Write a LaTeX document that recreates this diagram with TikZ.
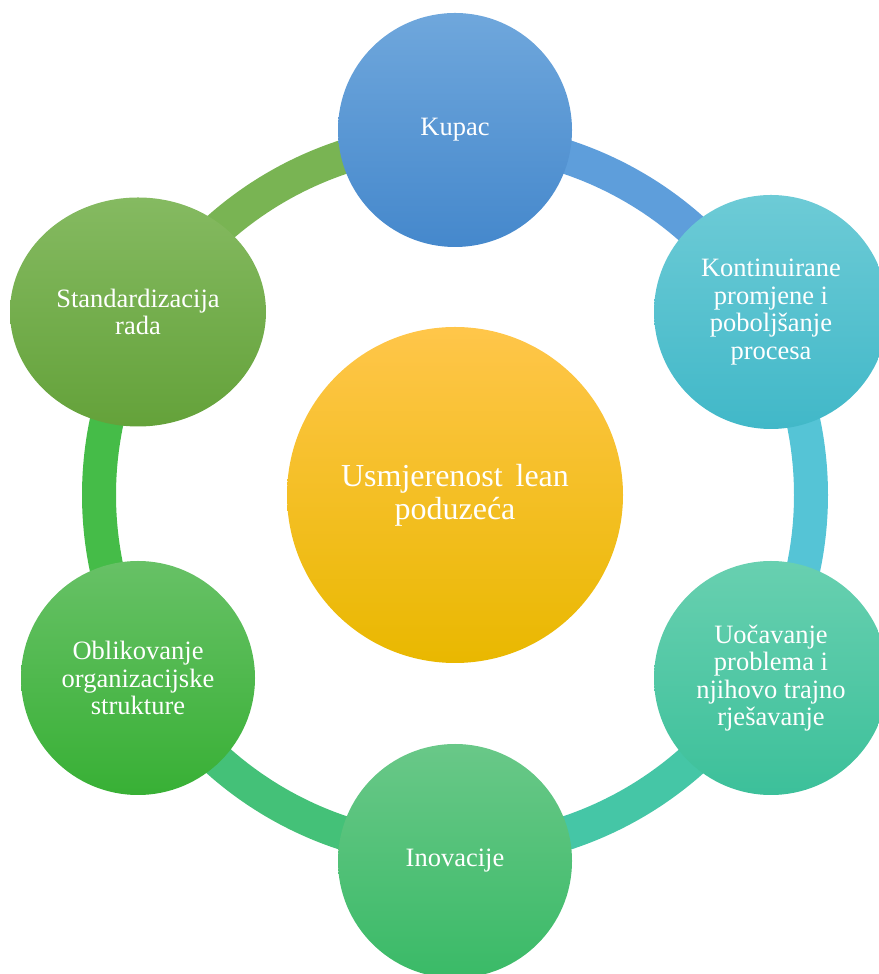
\documentclass[tikz,border=0pt]{standalone}
\usepackage{fontspec}
\setmainfont{Liberation Serif}
\usetikzlibrary{shapes.geometric}
\definecolor{kupT}{HTML}{6FA7DC}
\definecolor{kupB}{HTML}{4588CC}
\definecolor{konT}{HTML}{6DCBD6}
\definecolor{konB}{HTML}{41B8C8}
\definecolor{uocT}{HTML}{68D0B0}
\definecolor{uocB}{HTML}{3CC09A}
\definecolor{inoT}{HTML}{69C888}
\definecolor{inoB}{HTML}{3ABA67}
\definecolor{obiT}{HTML}{67C166}
\definecolor{obiB}{HTML}{38B035}
\definecolor{staT}{HTML}{85BA61}
\definecolor{staB}{HTML}{64A23A}
\definecolor{hubT}{HTML}{FFC64A}
\definecolor{hubM}{HTML}{FDC500}
\definecolor{hubB}{HTML}{E9B800}
\definecolor{arcSta}{HTML}{79B453}
\definecolor{arcKup}{HTML}{5E9EDB}
\definecolor{arcKon}{HTML}{55C4D6}
\definecolor{arcUoc}{HTML}{45C6A6}
\definecolor{arcIno}{HTML}{44C178}
\definecolor{arcObi}{HTML}{45BC48}
\begin{document}
\begin{tikzpicture}[x=1pt,y=1pt,
  ringarc/.style={line width=34pt},
  satnode/.style={circle, minimum size=234pt, inner sep=0pt, align=center,
    text=white, font=\fontsize{26.5}{27.5}\selectfont},
  hubnode/.style={circle, minimum size=336pt, inner sep=0pt, align=center,
    text=white, top color=hubT, middle color=hubM, bottom color=hubB,
    font=\fontsize{32}{33}\selectfont}]
\useasboundingbox (0,0) rectangle (878,974);
\coordinate (C) at (455,479);
% ring arcs
\draw[ringarc, arcSta] (C) ++(150:356pt) arc[start angle=150, end angle=90, radius=356pt];
\draw[ringarc, arcKup] (C) ++(90:356pt) arc[start angle=90, end angle=30, radius=356pt];
\draw[ringarc, arcKon] (C) ++(30:356pt) arc[start angle=30, end angle=-30, radius=356pt];
\draw[ringarc, arcUoc] (C) ++(-30:356pt) arc[start angle=-30, end angle=-90, radius=356pt];
\draw[ringarc, arcIno] (C) ++(270:356pt) arc[start angle=270, end angle=210, radius=356pt];
\draw[ringarc, arcObi] (C) ++(210:356pt) arc[start angle=210, end angle=150, radius=356pt];
% nodes
\node[hubnode] (hub) at (C) {Usmjerenost\hspace{0.15em} lean\\poduzeća};
\node[satnode, top color=kupT, bottom color=kupB] (kupac) at (455,844) {Kupac};
\node[satnode, top color=konT, bottom color=konB] (kont) at (771,662) {Kontinuirane\\promjene i\\poboljšanje\\procesa};
\node[satnode, top color=uocT, bottom color=uocB] (uoc) at (771,296) {Uočavanje\\problema i\\njihovo trajno\\rješavanje};
\node[satnode, top color=inoT, bottom color=inoB] (inov) at (455,113) {Inovacije};
\node[satnode, top color=obiT, bottom color=obiB] (oblik) at (138,296) {Oblikovanje\\organizacijske\\strukture};
\node[satnode, ellipse, minimum width=256pt, minimum height=229pt, top color=staT, bottom color=staB] (stand) at (138,662) {Standardizacija\\rada};
\end{tikzpicture}
\end{document}
